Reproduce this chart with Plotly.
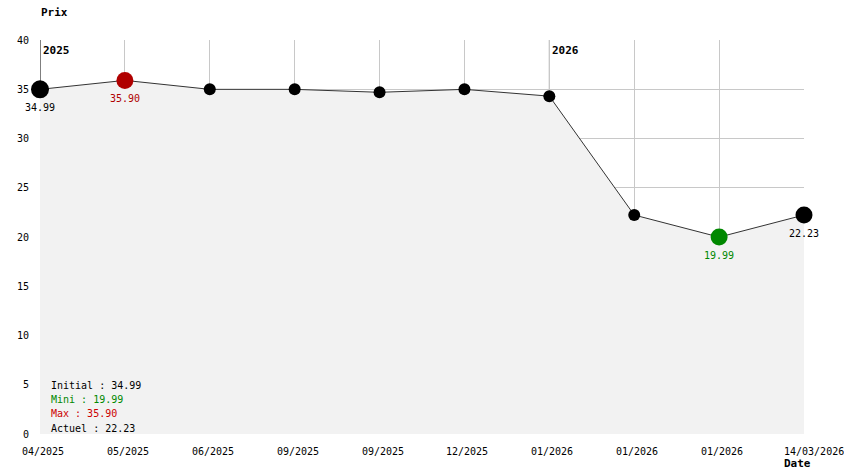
import plotly.graph_objects as go

dates = ["04/2025", "05/2025", "06/2025", "09/2025", "09/2025", "12/2025",
         "01/2026", "01/2026", "01/2026", "14/03/2026"]
prices = [34.99, 35.90, 34.99, 34.99, 34.69, 34.99, 34.30, 22.23, 19.99, 22.23]
year_marks = [(0, "2025"), (6, "2026")]
summary = [("Initial : 34.99", "#000000"), ("Mini : 19.99", "#008800"),
           ("Max : 35.90", "#cc0000"), ("Actuel : 22.23", "#000000")]
y_ticks = [0, 5, 10, 15, 20, 25, 30, 35, 40]

FONT = "DejaVu Sans Mono"
idx = list(range(len(prices)))

colors = ["#000000"] * len(prices)
sizes = [12] * len(prices)
sizes[0] = 18
sizes[-1] = 17
colors[1] = "#b00000"; sizes[1] = 17
colors[8] = "#008800"; sizes[8] = 17

fig = go.Figure()
fig.add_trace(go.Scatter(
    x=idx, y=prices, mode="lines+markers",
    line=dict(color="#333333", width=1),
    marker=dict(color=colors, size=sizes, opacity=1, line=dict(width=0)),
    fill="tozeroy", fillcolor="#f2f2f2",
    hoverinfo="skip", showlegend=False, cliponaxis=False,
))

shapes = []
for xi, _ in year_marks:
    shapes.append(dict(type="line", xref="x", yref="y", x0=xi, x1=xi, y0=0, y1=40,
                       line=dict(color="#000000" if xi == 0 else "#888888", width=1),
                       layer="below"))

annotations = []
for xi, yr in year_marks:
    annotations.append(dict(x=xi, y=40, xref="x", yref="y", text="<b>" + yr + "</b>",
                            showarrow=False, xanchor="left", yanchor="top",
                            xshift=1, yshift=-2, font=dict(family=FONT, size=11, color="#000")))

labels = [(0, "34.99", "#000000"), (1, "35.90", "#b00000"),
          (8, "19.99", "#008800"), (9, "22.23", "#000000")]
for xi, txt, col in labels:
    annotations.append(dict(x=xi, y=prices[xi], xref="x", yref="y", text=txt,
                            showarrow=False, xanchor="center", yanchor="middle",
                            yshift=-18, font=dict(family=FONT, size=10, color=col)))

# x-axis date labels: start ~20px before each point
for xi, d in zip(idx, dates):
    shift = -20 if xi < len(idx) - 1 else -22
    annotations.append(dict(x=xi, y=0, xref="x", yref="paper", text=d,
                            showarrow=False, xanchor="left", yanchor="middle",
                            xshift=shift, yshift=-17, font=dict(family=FONT, size=10, color="#000")))

W, H = 844, 474
L, T, R, B = 40, 40, 40, 40
pw, ph = W - L - R, H - T - B

def px(xp, yp):
    return (xp - L) / pw, 1 - (yp - T) / ph

for i, (txt, col) in enumerate(summary):
    x, y = px(49, 385.5 + i * 14.2)
    annotations.append(dict(x=x, y=y, xref="paper", yref="paper", text=txt,
                            showarrow=False, xanchor="left", yanchor="middle",
                            font=dict(family=FONT, size=10, color=col)))

x, y = px(39, 12)
annotations.append(dict(x=x, y=y, xref="paper", yref="paper", text="<b>Prix</b>",
                        showarrow=False, xanchor="left", yanchor="middle",
                        font=dict(family=FONT, size=11, color="#000")))
x, y = px(782, 463)
annotations.append(dict(x=x, y=y, xref="paper", yref="paper", text="<b>Date</b>",
                        showarrow=False, xanchor="left", yanchor="middle",
                        font=dict(family=FONT, size=11, color="#000")))

fig.update_layout(
    width=W, height=H,
    margin=dict(l=L, r=R, t=T, b=B, pad=0),
    paper_bgcolor="white", plot_bgcolor="white",
    font=dict(family=FONT, size=10, color="#000"),
    xaxis=dict(range=[0, 9], tickmode="array", tickvals=idx, ticktext=dates,
               showticklabels=False,
               showgrid=True, gridcolor="#c8c8c8", gridwidth=1, zeroline=False,
               showline=False, ticks="", fixedrange=True),
    yaxis=dict(range=[0, 40], tickmode="array", tickvals=y_ticks,
               showgrid=True, gridcolor="#c8c8c8", gridwidth=1, zeroline=False,
               showline=False, ticks="", tickfont=dict(family=FONT, size=10),
               ticklabelstandoff=10, fixedrange=True),
    shapes=shapes, annotations=annotations,
    hovermode=False,
)

fig.write_html("out.html",
               config={"displayModeBar": False, "staticPlot": True},
               post_script="document.body.style.margin='0';document.body.style.overflow='hidden';")
